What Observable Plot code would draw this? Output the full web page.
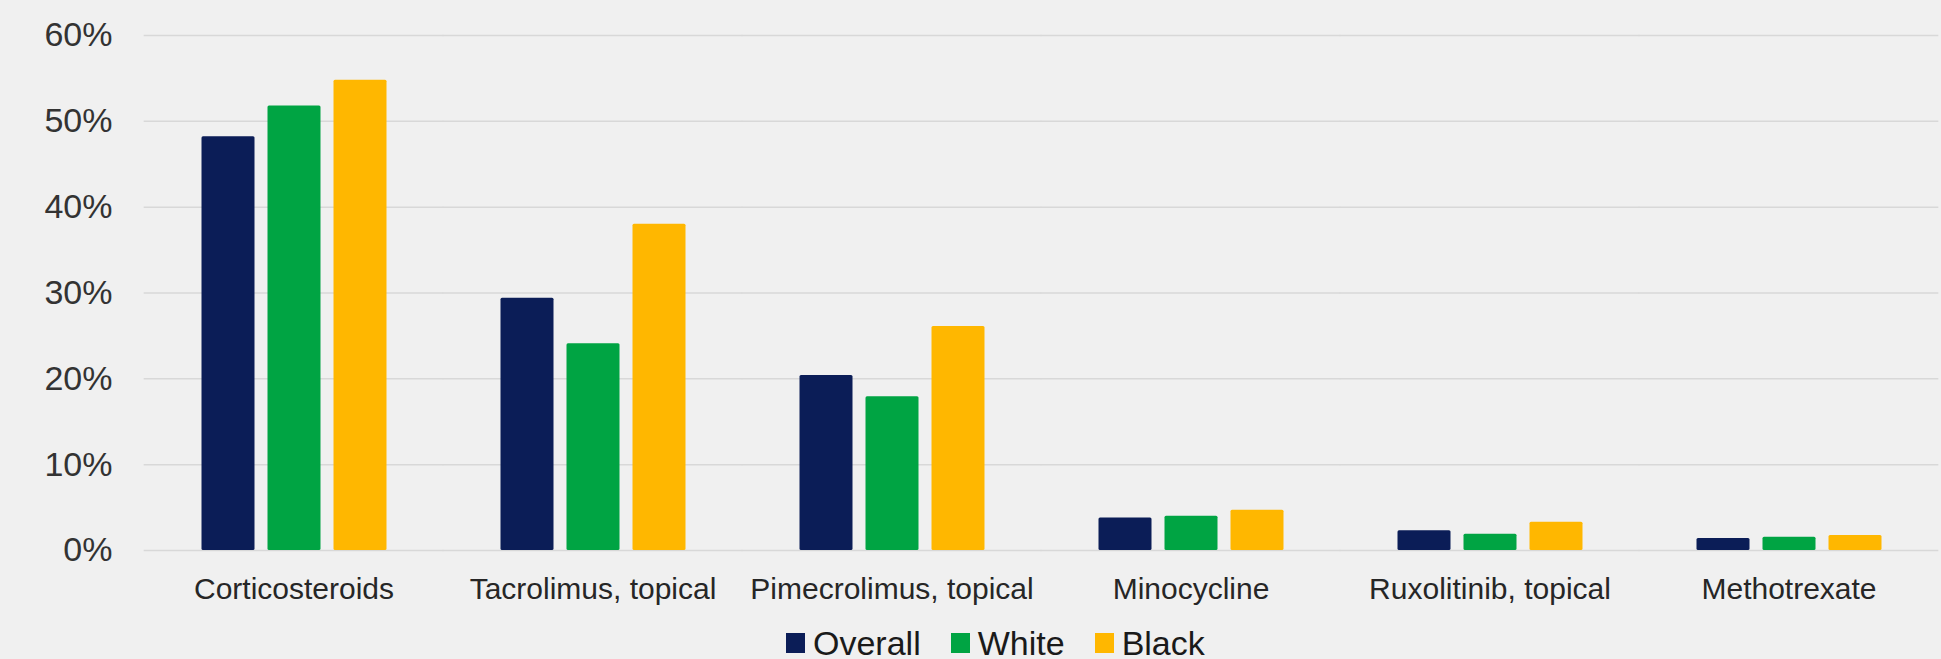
<!DOCTYPE html>
<html><head><meta charset="utf-8">
<script src="https://cdn.jsdelivr.net/npm/d3@7"></script>
<script src="https://cdn.jsdelivr.net/npm/@observablehq/plot@0.6"></script>
<style>
html,body{margin:0;padding:0;background:#f0f0f0;width:1941px;height:659px;overflow:hidden;font-family:"Liberation Sans",Arial,sans-serif;}
#chart{position:absolute;left:0;top:0;}
#legend{position:absolute;left:786px;top:626px;height:34px;display:flex;align-items:center;font-size:34px;line-height:34px;color:#1a1a1a;white-space:nowrap;}
.item{display:flex;align-items:center;margin-right:30px;}
.sw{width:19px;height:20px;margin-right:8px;}
.c g[aria-label^="fx-axis"] text{font-size:30px;fill:#262626;}
.c g[aria-label^="y-axis"] text{font-size:34px;fill:#333333;}
</style></head><body>
<div id="chart"></div><div id="legend"></div>
<script>
const categories = ["Corticosteroids","Tacrolimus, topical","Pimecrolimus, topical","Minocycline","Ruxolitinib, topical","Methotrexate"];
const series = ["Overall","White","Black"];
const overall = [48.2,29.4,20.4,3.8,2.3,1.4];
const white = [51.8,24.1,17.9,4.0,1.9,1.55];
const black = [54.8,38.0,26.1,4.7,3.3,1.75];
const yTicks = [0,10,20,30,40,50,60];
const colors = ["#0b1d57","#00a443","#ffb700"];

const seriesValues = {Overall: overall, White: white, Black: black};
const data = categories.flatMap((c, i) => series.map(s => ({category: c, series: s, value: seriesValues[s][i]})));

const plot = Plot.plot({
  className: "c",
  width: 1941, height: 620,
  marginTop: 35, marginBottom: 70, marginLeft: 141.5, marginRight: 0,
  style: {background: "transparent", fontFamily: "Liberation Sans, Arial, sans-serif", color: "#262626", overflow: "visible"},
  fx: {domain: categories, paddingInner: 0.335, paddingOuter: 0.1675, label: null, axis: "bottom", tickSize: 0, tickPadding: 27},
  x: {domain: series, paddingInner: 0.2, paddingOuter: 0.1, axis: null},
  y: {domain: [0, 60], ticks: yTicks, tickFormat: d => d + "%", tickSize: 0, tickPadding: 82, label: null},
  color: {domain: series, range: colors},
  marks: [
    Plot.ruleY(yTicks, {stroke: "#d8d8d8", strokeWidth: 1.5, insetLeft: -50.3, insetRight: -50.3}),
    Plot.barY(data, {fx: "category", x: "series", y: "value", fill: "series", rx: 1.5})
  ]
});
document.getElementById("chart").appendChild(plot);

const legend = document.getElementById("legend");
series.forEach((s, i) => {
  const item = document.createElement("div");
  item.className = "item";
  const sw = document.createElement("div");
  sw.className = "sw";
  sw.style.background = colors[i];
  const t = document.createElement("span");
  t.textContent = s;
  item.appendChild(sw); item.appendChild(t);
  legend.appendChild(item);
});
</script>
</body></html>
